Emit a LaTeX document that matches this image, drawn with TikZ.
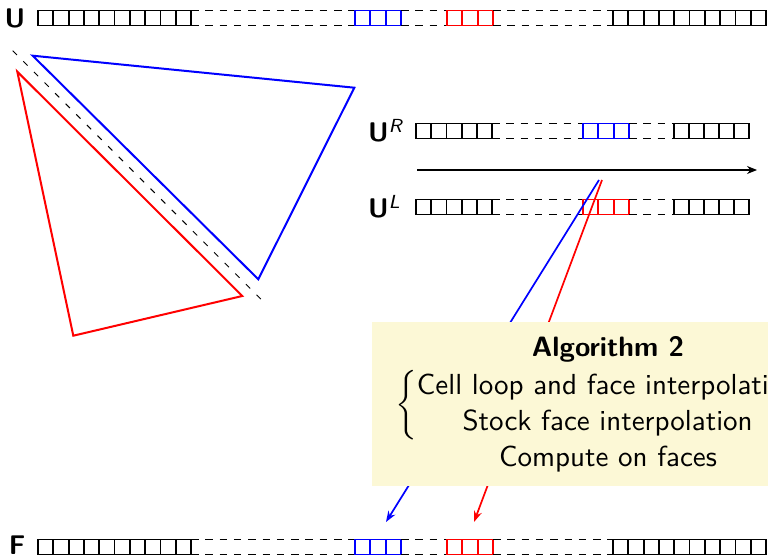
\documentclass[tikz,border=0pt]{standalone}
\usetikzlibrary{arrows.meta}
\definecolor{boxyellow}{RGB}{252,248,214}
\newcommand\sbx[1]{\scalebox{2.7}{#1}}
\newcommand\sbxb[1]{\scalebox{2.9}{#1}}
\newcommand\cellrow[5]{% x0, w, n, ytop, colour
  \foreach \ci in {1,...,#3}{%
    \draw[cellst,#5] ({#1+(\ci-1)*#2},#4) rectangle ++(#2,15);}}
\newcommand\dashrow[3]{% x1, x2, ytop
  \draw[dashst] (#1,#3) -- (#2,#3) (#1,#3+15) -- (#2,#3+15);}
\tikzset{
  cellst/.style={line width=1.8pt},
  dashst/.style={line width=1.9pt, dash pattern=on 7.5pt off 6.8pt},
  lbl/.style={inner sep=0pt, font=\sffamily\fontsize{10}{12.6}\selectfont},
  tri/.style={line width=2pt, line join=miter},
  link/.style={line width=1.7pt, -{Stealth[length=11pt,width=8pt]}},
}
\begin{document}
\begin{tikzpicture}[x=1pt,y=-1pt]
\useasboundingbox (0,0) rectangle (768,556);
\clip (0,0) rectangle (768,556);
% ---- U row (top)
\cellrow{38}{15.3}{10}{10.5}{black}
\dashrow{191}{355}{10.5}
\cellrow{355}{15.3}{3}{10.5}{blue}
\dashrow{401}{447}{10.5}
\cellrow{447}{15.3}{3}{10.5}{red}
\dashrow{493}{613}{10.5}
\cellrow{613}{15.3}{10}{10.5}{black}
\node[lbl, anchor=base east] (U) at (25.5,28) {\sbx{\textbf{U}}};
% ---- U^R row
\cellrow{416}{15.2}{5}{123.5}{black}
\dashrow{492}{583}{123.5}
\cellrow{583}{15.3}{3}{123.5}{blue}
\dashrow{629}{674}{123.5}
\cellrow{674}{15.0}{5}{123.5}{black}
\node[lbl, anchor=base west] (UR) at (368,142) {\sbx{\textbf{U}\textsuperscript{\textit{R}}}};
% ---- arrow
\coordinate (aS) at (417,170);
\coordinate (aE) at (757,170);
\draw[line width=1.3pt, -{Stealth[length=10pt,width=8pt]}] (aS) -- (aE);
% ---- U^L row
\cellrow{416}{15.2}{5}{199.5}{black}
\dashrow{492}{583}{199.5}
\cellrow{583}{15.3}{3}{199.5}{red}
\dashrow{629}{674}{199.5}
\cellrow{674}{15.0}{5}{199.5}{black}
\node[lbl, anchor=base west] (UL) at (368,218) {\sbx{\textbf{U}\textsuperscript{\textit{L}}}};
% ---- F row (bottom)
\cellrow{38}{15.3}{10}{539.5}{black}
\dashrow{191}{355}{539.5}
\cellrow{355}{15.3}{3}{539.5}{blue}
\dashrow{401}{447}{539.5}
\cellrow{447}{15.3}{3}{539.5}{red}
\dashrow{493}{613}{539.5}
\cellrow{613}{15.3}{10}{539.5}{black}
\node[lbl, anchor=base east] (F) at (25.5,554.5) {\sbx{\textbf{F}}};
% ---- triangles
\draw[tri, blue] (32.7,55.7) -- (354.3,87.7) -- (258.3,279.3) -- cycle;
\draw[tri, red] (17.3,71.7) -- (242.3,296) -- (73.3,335.7) -- cycle;
\draw[line width=1pt, dash pattern=on 6pt off 9pt] (12.7,50.7) -- (265.7,304);
% ---- links
\coordinate (bS) at (599,180);
\coordinate (bE) at (386,522);
\coordinate (rS) at (602,180);
\coordinate (rE) at (474,522);
\draw[link, blue] (bS) -- (bE);
\draw[link, red] (rS) -- (rE);
% ---- algorithm box
\node[fill=boxyellow, inner sep=0pt, anchor=north west, minimum width=430pt, minimum height=164pt] (algbox) at (372,322) {};
\node[lbl, anchor=base] (title) at (608,356.5) {\scalebox{2.8}{\textbf{Algorithm 2}}};
\node[lbl, anchor=west] (steps) at (395,405) {\sbxb{$\left\{\begin{tabular}{@{}c@{}}Cell loop and face interpolation\\Stock face interpolation\end{tabular}\right.$}};
\node[lbl, anchor=base] (compute) at (608,466) {\sbxb{Compute on faces}};
\end{tikzpicture}
\end{document}
